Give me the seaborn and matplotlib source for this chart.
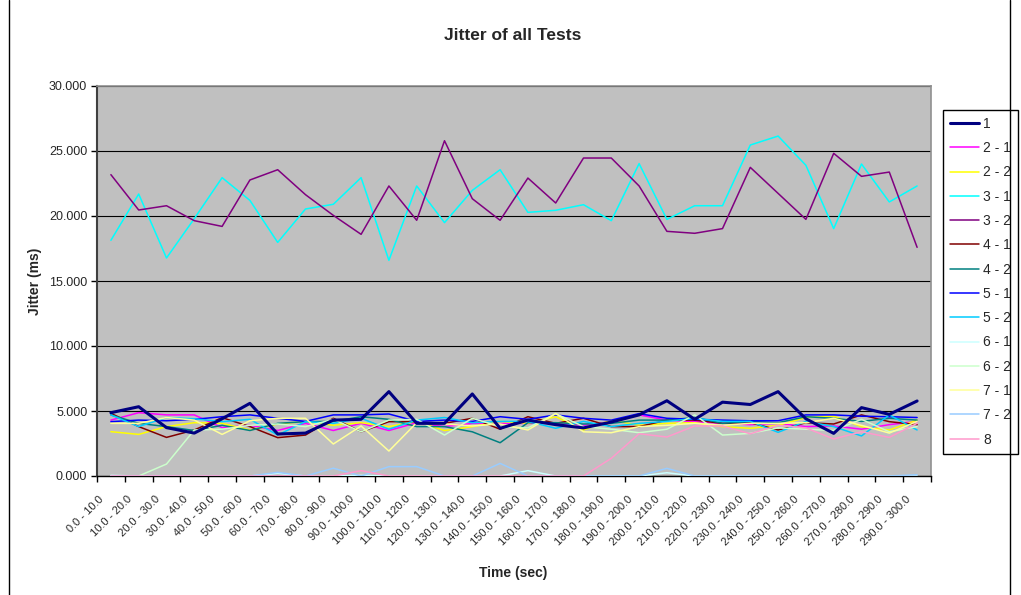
import numpy as np
import pandas as pd
import matplotlib
matplotlib.use("Agg")
import matplotlib.pyplot as plt
import matplotlib.transforms as mtransforms
from matplotlib.lines import Line2D
from matplotlib.ticker import FixedLocator, FuncFormatter
import seaborn as sns

# ---- data -------------------------------------------------------------
time_bins = [
    "0.0 - 10.0", "10.0 - 20.0", "20.0 - 30.0", "30.0 - 40.0", "40.0 - 50.0",
    "50.0 - 60.0", "60.0 - 70.0", "70.0 - 80.0", "80.0 - 90.0", "90.0 - 100.0",
    "100.0 - 110.0", "110.0 - 120.0", "120.0 - 130.0", "130.0 - 140.0",
    "140.0 - 150.0", "150.0 - 160.0", "160.0 - 170.0", "170.0 - 180.0",
    "180.0 - 190.0", "190.0 - 200.0", "200.0 - 210.0", "210.0 - 220.0",
    "220.0 - 230.0", "230.0 - 240.0", "240.0 - 250.0", "250.0 - 260.0",
    "260.0 - 270.0", "270.0 - 280.0", "280.0 - 290.0", "290.0 - 300.0",
]

test_1 = [4.87, 5.33, 3.72, 3.30, 4.40, 5.59, 3.23, 3.30, 4.30, 4.36,
          6.49, 4.05, 4.05, 6.31, 3.67, 4.30, 3.95, 3.70, 4.15, 4.70,
          5.79, 4.36, 5.68, 5.50, 6.49, 4.40, 3.28, 5.26, 4.74, 5.77]
test_2_1 = [4.30, 4.87, 4.70, 4.70, 3.72, 3.90, 3.50, 4.05, 3.50, 4.05,
            3.50, 4.10, 3.80, 4.05, 4.05, 4.05, 4.05, 3.90, 4.18, 4.70,
            4.30, 4.18, 4.05, 3.95, 4.05, 3.80, 3.85, 3.60, 3.95, 4.20]
test_2_2 = [3.41, 3.20, 3.80, 4.10, 4.05, 3.54, 4.00, 4.20, 3.90, 4.10,
            3.80, 4.20, 3.50, 3.80, 4.20, 4.05, 4.56, 3.54, 4.30, 3.90,
            4.05, 4.10, 3.80, 3.67, 3.90, 4.50, 4.60, 3.80, 3.54, 4.30]
test_3_1 = [18.13, 21.69, 16.77, 19.80, 22.95, 21.20, 17.97, 20.54, 20.90, 22.95,
            16.59, 22.31, 19.49, 21.97, 23.56, 20.28, 20.44, 20.87, 19.64, 24.03,
            19.74, 20.79, 20.79, 25.46, 26.15, 23.90, 19.03, 24.00, 21.08, 22.31]
test_3_2 = [23.18, 20.46, 20.79, 19.64, 19.20, 22.77, 23.56, 21.64, 20.05, 18.59,
            22.31, 19.67, 25.79, 21.33, 19.67, 22.92, 21.00, 24.46, 24.46, 22.31,
            18.82, 18.67, 19.03, 23.74, 21.74, 19.74, 24.82, 23.05, 23.38, 17.59]
test_4_1 = [4.82, 3.80, 2.97, 3.54, 4.49, 3.80, 2.95, 3.15, 4.44, 3.40,
            4.18, 4.18, 4.05, 4.44, 3.60, 4.56, 4.05, 4.44, 3.80, 3.80,
            4.30, 4.30, 4.05, 4.10, 3.54, 4.10, 4.00, 4.70, 4.18, 3.95]
test_4_2 = [4.70, 4.05, 3.80, 3.50, 3.90, 3.50, 4.05, 4.18, 4.20, 4.56,
            4.36, 3.80, 3.80, 3.40, 2.56, 4.10, 4.10, 4.00, 4.05, 4.30,
            4.30, 4.50, 4.05, 4.20, 4.10, 4.56, 4.44, 4.20, 4.44, 4.30]
test_5_1 = [4.18, 4.30, 4.25, 4.36, 4.56, 4.70, 4.44, 4.20, 4.70, 4.70,
            4.77, 4.20, 4.30, 4.20, 4.56, 4.36, 4.70, 4.44, 4.30, 4.80,
            4.44, 4.36, 4.30, 4.25, 4.25, 4.70, 4.70, 4.60, 4.56, 4.50]
test_5_2 = [4.70, 3.80, 4.50, 4.40, 4.18, 4.36, 3.15, 4.18, 4.05, 4.44,
            3.60, 4.30, 4.50, 4.10, 4.20, 4.20, 3.67, 4.20, 3.80, 4.05,
            4.20, 4.44, 4.20, 4.20, 3.36, 4.20, 3.80, 3.08, 4.70, 3.54]
test_6_1 = [0.05, 0.00, 0.00, 0.00, 0.00, 0.00, 0.20, 0.00, 0.00, 0.05,
            0.00, 0.00, 0.00, 0.00, 0.00, 0.41, 0.00, 0.00, 0.00, 0.00,
            0.25, 0.00, 0.00, 0.00, 0.00, 0.00, 0.00, 0.00, 0.00, 0.00]
test_6_2 = [0.00, 0.00, 0.92, 3.54, 3.60, 3.90, 4.00, 3.80, 4.36, 3.40,
            4.30, 4.36, 3.15, 4.44, 3.80, 3.70, 4.80, 3.80, 3.60, 3.33,
            3.60, 4.70, 3.15, 3.28, 3.70, 3.60, 3.50, 4.36, 3.40, 3.80]
test_7_1 = [4.05, 4.05, 4.50, 4.30, 3.20, 4.25, 4.44, 4.44, 2.46, 3.85,
            1.92, 4.10, 4.00, 3.85, 4.00, 3.54, 4.80, 3.40, 3.33, 3.80,
            3.90, 4.05, 3.90, 4.05, 4.05, 4.10, 4.44, 3.90, 3.30, 4.20]
test_7_2 = [0.00, 0.00, 0.00, 0.00, 0.00, 0.00, 0.28, 0.00, 0.60, 0.00,
            0.72, 0.72, 0.00, 0.00, 0.97, 0.00, 0.00, 0.00, 0.00, 0.00,
            0.59, 0.00, 0.00, 0.00, 0.00, 0.00, 0.00, 0.00, 0.00, 0.10]
test_8 = [0.00, 0.00, 0.00, 0.00, 0.00, 0.00, 0.00, 0.00, 0.00, 0.41,
          0.00, 0.00, 0.00, 0.00, 0.00, 0.00, 0.00, 0.00, 1.36, 3.25,
          3.00, 3.85, 3.85, 3.25, 3.90, 3.70, 2.85, 3.40, 2.97, 4.05]

series_names = ["1", "2 - 1", "2 - 2", "3 - 1", "3 - 2", "4 - 1", "4 - 2",
                "5 - 1", "5 - 2", "6 - 1", "6 - 2", "7 - 1", "7 - 2", "8"]
series_values = [test_1, test_2_1, test_2_2, test_3_1, test_3_2, test_4_1,
                 test_4_2, test_5_1, test_5_2, test_6_1, test_6_2, test_7_1,
                 test_7_2, test_8]
series_colors = ["#000080", "#FF00FF", "#FFFF00", "#00FFFF", "#800080",
                 "#800000", "#008080", "#0000FF", "#00CCFF", "#CCFFFF",
                 "#CCFFCC", "#FFFF99", "#99CCFF", "#FF99CC"]

# ---- style ------------------------------------------------------------
sns.set_style("white")
plt.rcParams["font.family"] = ["Liberation Sans", "DejaVu Sans"]

W, H = 1021, 595
fig = plt.figure(figsize=(W / 100, H / 100), dpi=100)
ax = fig.add_axes([97 / W, 119 / H, 834 / W, 390 / H])
ax.set_facecolor("#C0C0C0")

for name, vals, col in zip(series_names, series_values, series_colors):
    thick = name == "1"
    sns.lineplot(x=time_bins, y=vals, ax=ax, color=col, sort=False,
                 linewidth=2.2 if thick else 1.1,
                 label=name, zorder=4 if thick else 3)

# ---- axes -------------------------------------------------------------
ax.set_xlim(-0.5, len(time_bins) - 0.5)
ax.set_ylim(0, 30)
ax.yaxis.set_major_locator(FixedLocator([0, 5, 10, 15, 20, 25, 30]))
ax.yaxis.set_major_formatter(FuncFormatter(lambda v, p: f"{v:.3f}"))
ax.grid(axis="y", color="black", linewidth=0.8)
ax.grid(axis="x", visible=False)
ax.set_axisbelow(True)

ax.xaxis.set_minor_locator(FixedLocator(np.arange(-0.5, len(time_bins), 1.0)))
ax.tick_params(axis="x", which="major", length=0, labelsize=8, pad=13)
ax.tick_params(axis="x", which="minor", length=4, width=1, color="black",
               direction="out", bottom=True)
ax.tick_params(axis="y", which="major", length=4, width=1, color="black",
               direction="out", left=True, labelsize=9, pad=3)

shift = mtransforms.ScaledTranslation(-0.12, 0, fig.dpi_scale_trans)
for lab in ax.get_xticklabels():
    lab.set_rotation(45)
    lab.set_ha("right")
    lab.set_va("top")
    lab.set_rotation_mode("anchor")
    lab.set_transform(lab.get_transform() + shift)

ax.set_xlabel("")
ax.set_ylabel("")
ax.spines["left"].set_color("#404040")
ax.spines["left"].set_linewidth(1.5)
ax.spines["bottom"].set_color("black")
ax.spines["bottom"].set_linewidth(1.0)
ax.spines["top"].set_color("#909090")
ax.spines["right"].set_color("#909090")
ax.spines["top"].set_linewidth(1.2)
ax.spines["right"].set_linewidth(1.2)

# ---- legend -----------------------------------------------------------
handles, labels = ax.get_legend_handles_labels()
leg = ax.legend(handles, labels, loc="upper left",
                bbox_to_anchor=(943 / W, 1 - 110 / H),
                bbox_transform=fig.transFigure, frameon=True, fancybox=False,
                edgecolor="black", framealpha=1, fontsize=10,
                handlelength=2.1, handletextpad=0.3, labelspacing=0.74,
                borderpad=0.5, borderaxespad=0)
leg.get_frame().set_linewidth(1.0)

# ---- titles and frame ---------------------------------------------------
fig.text(513 / W, 1 - 35 / H, "Jitter of all Tests", ha="center", va="center",
         fontsize=12.5, fontweight="bold")
fig.text(35 / W, 1 - 281 / H, "Jitter (ms)", ha="center", va="center",
         rotation=90, fontsize=10, fontweight="bold")
fig.text(513 / W, 1 - 573 / H, "Time (sec)", ha="center", va="center",
         fontsize=10, fontweight="bold")

for xpix in (9, 1010):
    fig.add_artist(Line2D([xpix / W, xpix / W], [0, 1],
                          transform=fig.transFigure, color="black", linewidth=1.0))

fig.savefig("out.png", dpi=100)
